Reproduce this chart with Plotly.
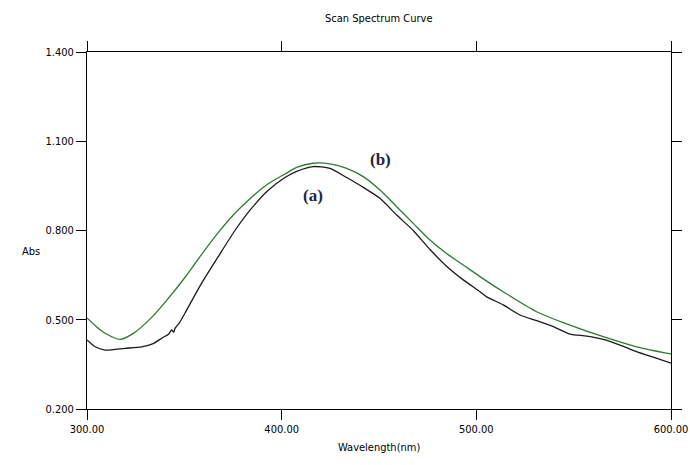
import plotly.graph_objects as go

# Curve (b) - green
wl_b = [300.0, 305.0, 310.0, 317.0, 324.0, 333.2, 341.0, 350.3, 358.9, 367.4, 376.0,
        384.6, 393.1, 401.7, 407.7, 416.2, 424.8, 433.4, 441.9, 450.5, 459.1, 467.6,
        476.2, 484.7, 493.3, 501.9, 513.8, 531.0, 548.1, 565.2, 582.3, 600.0]
abs_b = [0.506, 0.476, 0.452, 0.434, 0.455, 0.508, 0.566, 0.642, 0.720, 0.793, 0.858,
         0.912, 0.957, 0.990, 1.012, 1.026, 1.024, 1.009, 0.981, 0.936, 0.880, 0.824,
         0.768, 0.723, 0.684, 0.645, 0.594, 0.527, 0.482, 0.443, 0.409, 0.385]

# Curve (a) - black
wl_a = [300.0, 304.0, 309.2, 319.5, 328.1, 334.0, 338.4, 342.0, 343.5, 344.5, 345.2,
        347.5, 350.3, 358.9, 367.4, 376.0, 384.6, 393.1, 401.7, 407.7, 416.2, 424.8,
        433.4, 441.9, 450.5, 459.1, 467.6, 476.2, 484.7, 493.3, 501.9, 505.3, 513.8,
        522.4, 531.0, 539.5, 548.1, 556.7, 565.2, 573.8, 582.3, 590.9, 600.0]
abs_a = [0.432, 0.410, 0.398, 0.404, 0.409, 0.420, 0.438, 0.452, 0.466, 0.458, 0.471,
         0.490, 0.522, 0.623, 0.712, 0.800, 0.875, 0.935, 0.978, 0.999, 1.015, 1.009,
         0.978, 0.945, 0.908, 0.852, 0.800, 0.736, 0.680, 0.634, 0.594, 0.577, 0.550,
         0.516, 0.497, 0.477, 0.452, 0.445, 0.434, 0.415, 0.393, 0.374, 0.354]

x_ticks = [300, 400, 500, 600]
y_ticks = [0.2, 0.5, 0.8, 1.1, 1.4]

labels = ["(a)", "(b)"]
label_x = [416.0, 451.0]
label_y = [0.916, 1.037]

FONT = "DejaVu Sans Condensed, Liberation Sans Narrow, sans-serif"

fig = go.Figure()
fig.add_trace(go.Scatter(x=wl_b, y=abs_b, mode="lines",
                         line=dict(color="#2f7a34", width=1.3, shape="spline",
                                   smoothing=0.8), showlegend=False))
fig.add_trace(go.Scatter(x=wl_a, y=abs_a, mode="lines",
                         line=dict(color="#1a1a1a", width=1.3, shape="spline",
                                   smoothing=0.6), showlegend=False))

for t, lx, ly in zip(labels, label_x, label_y):
    fig.add_annotation(x=lx, y=ly, text="<b>" + t + "</b>", showarrow=False,
                       font=dict(family="Liberation Serif, Times New Roman, serif",
                                 size=17, color="#1b2646"))

fig.add_annotation(xref="paper", yref="paper", x=-0.115, y=0.44, text="Abs",
                   showarrow=False, font=dict(family=FONT, size=11, color="#000"))
fig.add_annotation(xref="paper", yref="paper", x=0.5, y=-0.132, text="Wavelength(nm)",
                   showarrow=False, font=dict(family=FONT, size=11, color="#000"))

axis_common = dict(showgrid=False, zeroline=False, showline=True, linecolor="#000",
                   linewidth=1, ticks="outside", ticklen=10, tickcolor="#000",
                   tickwidth=1, mirror="ticks", automargin=False,
                   tickfont=dict(family=FONT, size=11, color="#000"))

fig.update_xaxes(range=[300, 600], tickvals=x_ticks,
                 ticktext=[f"{v:.2f}" for v in x_ticks], **axis_common)
fig.update_yaxes(range=[0.2, 1.4], tickvals=y_ticks,
                 ticktext=[f"{v:.3f}" for v in y_ticks], **axis_common)

fig.update_layout(
    width=690, height=465,
    margin=dict(l=87, r=19, t=52, b=56),
    paper_bgcolor="#fff", plot_bgcolor="#fff",
    title=dict(text="Scan Spectrum Curve", x=0.549, xanchor="center",
               y=1 - 18 / 465, yanchor="middle",
               font=dict(family=FONT, size=11, color="#000")),
)

fig.write_html("out.html")
